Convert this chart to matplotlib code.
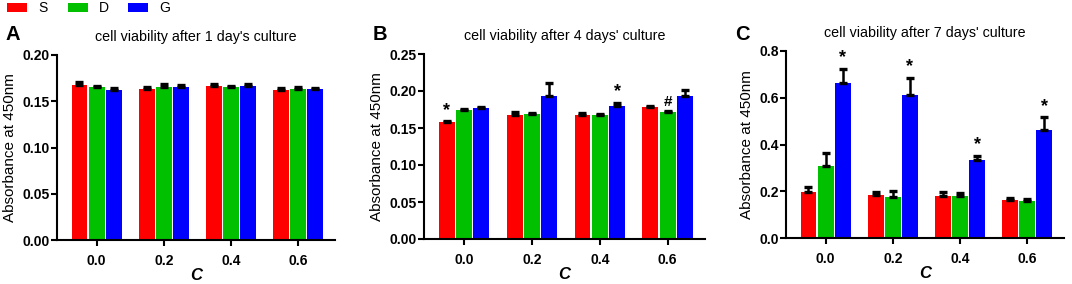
import numpy as np
import matplotlib.pyplot as plt
from matplotlib.patches import Rectangle

plt.rcParams['font.family'] = ['Liberation Sans', 'DejaVu Sans']

groups = ['0.0', '0.2', '0.4', '0.6']
series = ['S', 'D', 'G']
colors = ['#FF0000', '#00C000', '#0000FF']

# day 1
d1_mean = {'S': [0.168, 0.1636, 0.166, 0.1618],
           'D': [0.165, 0.1654, 0.1654, 0.1636],
           'G': [0.1625, 0.165, 0.166, 0.163]}
d1_err = {'S': [0.0025, 0.0015, 0.0025, 0.002],
          'D': [0.002, 0.0035, 0.0015, 0.0015],
          'G': [0.0017, 0.0026, 0.0025, 0.0017]}
# day 4
d4_mean = {'S': [0.1575, 0.168, 0.168, 0.1778],
           'D': [0.1746, 0.1683, 0.167, 0.171],
           'G': [0.1764, 0.1931, 0.1796, 0.193]}
d4_err = {'S': [0.0017, 0.0042, 0.0017, 0.0017],
          'D': [0.0017, 0.0014, 0.0014, 0.002],
          'G': [0.0017, 0.0176, 0.0045, 0.009]}
# day 7
d7_mean = {'S': [0.195, 0.182, 0.180, 0.162],
           'D': [0.308, 0.175, 0.178, 0.160],
           'G': [0.661, 0.611, 0.334, 0.462]}
d7_err = {'S': [0.024, 0.014, 0.017, 0.007],
          'D': [0.056, 0.024, 0.014, 0.005],
          'G': [0.064, 0.075, 0.018, 0.054]}

# (series, group index, mark)
d4_marks = [('S', 0, '*'), ('G', 2, '*'), ('D', 3, '#')]
d7_marks = [('G', 0, '*'), ('G', 1, '*'), ('G', 2, '*'), ('G', 3, '*')]

titles = ["cell viability after 1 day's culture",
          "cell viability after 4 days' culture",
          "cell viability after 7 days' culture"]
letters = ['A', 'B', 'C']
ylims = [(0, 0.20), (0, 0.25), (0, 0.8)]
yticks = [np.arange(0, 0.201, 0.05), np.arange(0, 0.251, 0.05), np.arange(0, 0.81, 0.2)]
yfmt = ['{:.2f}', '{:.2f}', '{:.1f}']

W, H = 1072, 284
fig = plt.figure(figsize=(W / 100, H / 100), dpi=100)

# axes boxes in pixels: left, right, top, bottom
boxes = [(57, 335, 55, 240), (424, 705, 54, 239), (786, 1064, 51, 238)]

datasets = [(d1_mean, d1_err, []), (d4_mean, d4_err, d4_marks), (d7_mean, d7_err, d7_marks)]

x = np.arange(len(groups))
bw = 0.235
step = 0.255

for i, (box, (means, errs, marks)) in enumerate(zip(boxes, datasets)):
    l, r, t, b = box
    ax = fig.add_axes([l / W, 1 - b / H, (r - l) / W, (b - t) / H])
    for j, s in enumerate(series):
        xpos = x + (j - 1) * step
        ax.bar(xpos, means[s], width=bw, color=colors[j], zorder=2)
        ax.errorbar(xpos, means[s], yerr=[np.zeros(4), errs[s]], fmt='none',
                    ecolor='black', elinewidth=1.8, capsize=3.2, capthick=2.4, zorder=3)
    for s, g, m in marks:
        j = series.index(s)
        ytop = means[s][g] + errs[s][g]
        ax.text(x[g] + (j - 1) * step, ytop + 0.012 * ylims[i][1], m, ha='center', va='bottom',
                fontsize=13 if m == '*' else 11, fontweight='bold')
    ax.set_xlim(-0.59, 3.55)
    ax.set_ylim(*ylims[i])
    ax.set_yticks(yticks[i])
    ax.set_yticklabels([yfmt[i].format(v) for v in yticks[i]])
    ax.set_xticks(x)
    ax.set_xticklabels(groups)
    for lab in ax.get_xticklabels() + ax.get_yticklabels():
        lab.set_fontweight('bold')
        lab.set_fontsize(10)
    ax.spines['top'].set_visible(False)
    ax.spines['right'].set_visible(False)
    ax.spines['left'].set_linewidth(1.5)
    ax.spines['bottom'].set_linewidth(1.5)
    ax.tick_params(axis='both', width=1.5, length=4, pad=1)
    ax.tick_params(axis='x', pad=6)
    ax.set_ylabel('Absorbance at 450nm', fontsize=11, labelpad=4)
    ax.set_xlabel('C', fontsize=12, fontstyle='italic', fontweight='bold', labelpad=0)
    ax.set_title(titles[i], fontsize=10.3, pad=10)
    fig.text((l - 51) / W, 1 - 34 / H, letters[i], fontsize=14.5, fontweight='bold',
             ha='left', va='center')

# legend row at the top left
leg_x = [7, 68, 128]
for j, s in enumerate(series):
    fig.patches.append(Rectangle((leg_x[j] / W, 1 - 12 / H), 20 / W, 9 / H,
                                 transform=fig.transFigure, facecolor=colors[j],
                                 edgecolor='none'))
    fig.text((leg_x[j] + 31) / W, 1 - 8 / H, s, fontsize=10, ha='left', va='center')

fig.savefig('out.png', dpi=100)
